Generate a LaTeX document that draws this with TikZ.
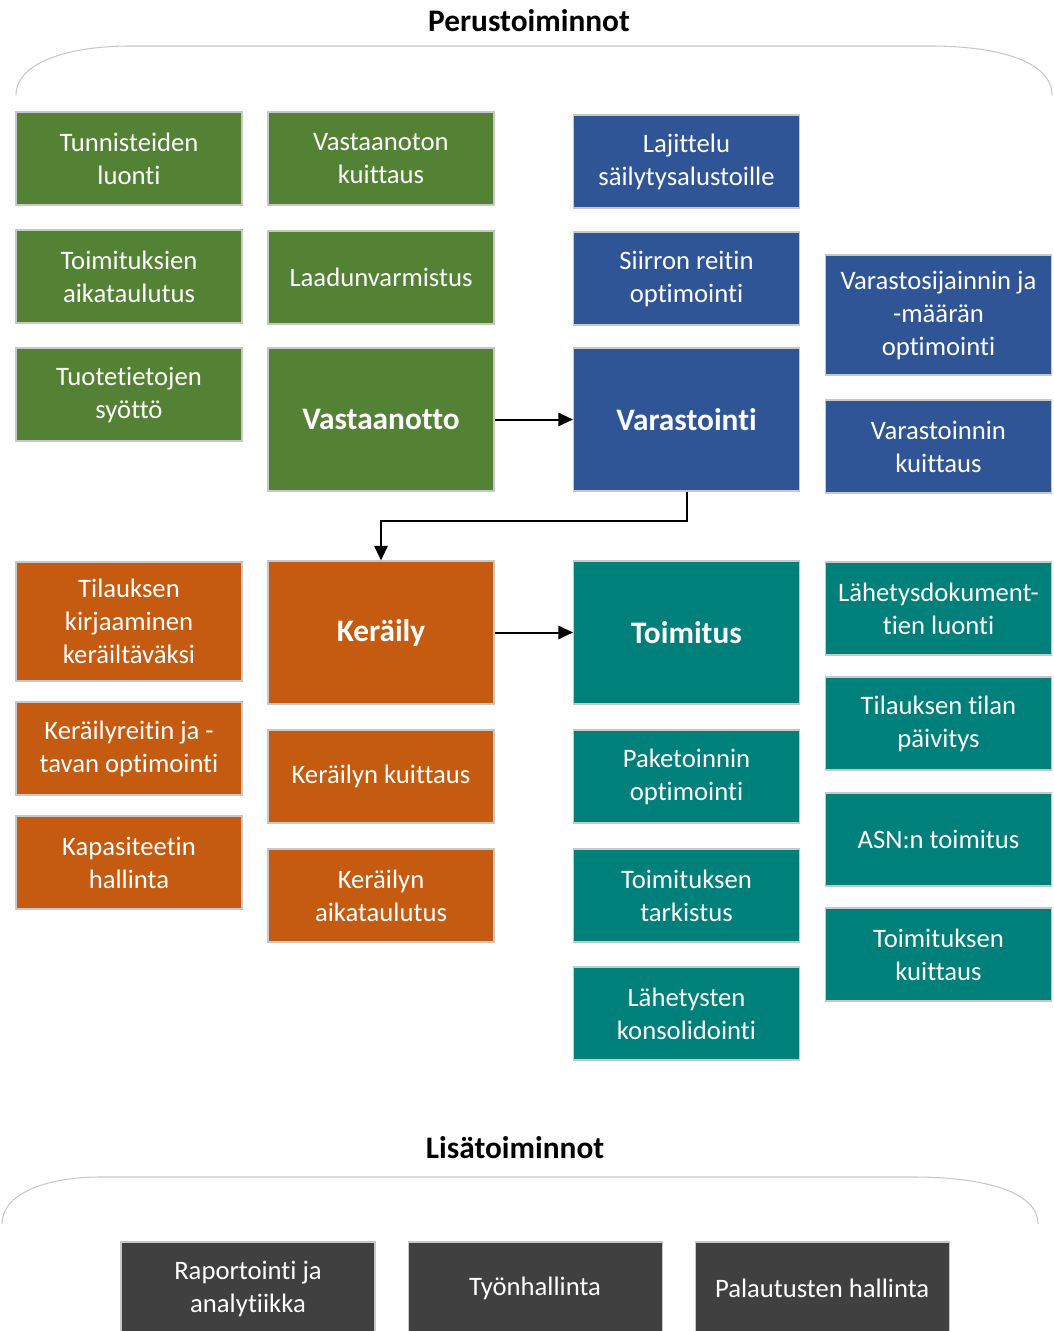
\documentclass[tikz,border=0pt]{standalone}
\usepackage{fontspec}
\setmainfont{Carlito}[Ligatures=NoCommon]
\usetikzlibrary{arrows.meta,positioning}
\definecolor{vgreen}{HTML}{548235}
\definecolor{vblue}{HTML}{2F5597}
\definecolor{vorange}{HTML}{C55A11}
\definecolor{vteal}{HTML}{00807A}
\definecolor{vdark}{HTML}{404040}
\definecolor{vedge}{HTML}{C8C8C8}
\tikzset{
  box/.style={draw=vedge, line width=0.8pt, text=white, align=center,
    minimum width=169.5pt, minimum height=69.75pt, inner sep=0pt,
    font=\fontsize{20}{24.75}\selectfont},
  bigbox/.style={box, minimum height=107.25pt, font=\fontsize{23.5}{28}\selectfont\bfseries},
  head/.style={font=\fontsize{23.5}{28}\selectfont\bfseries},
  flow/.style={line width=1.5pt, -{Triangle[length=11pt,width=10pt]}},
  brace/.style={draw=vedge, line width=0.8pt}
}
\begin{document}
\begin{tikzpicture}[x=0.75pt,y=-0.75pt]
 \clip (0,0) rectangle (1053,1331);
 % Perustoiminnot
 \node[head] (perus) at (529,21) {Perustoiminnot};
 \draw[brace] (16,95) .. controls (16,62) and (70,46) .. (130,46) -- (930,46)
   .. controls (1000,46) and (1052,62) .. (1052,95);
 %
 \node[box,fill=vgreen] (g1) at (129,158.5) {Tunnisteiden\\luonti};
 \node[box,fill=vgreen] (g2) at (381,158.5) {Vastaanoton\\kuittaus};
 \node[box,fill=vgreen] (g3) at (129,276.5) {Toimituksien\\aikataulutus};
 \node[box,fill=vgreen] (g4) at (381,277.5) {Laadunvarmistus};
 \node[box,fill=vgreen] (g5) at (129,394.5) {Tuotetietojen\\syöttö};
 \node[bigbox,fill=vgreen] (vastaanotto) at (381,419.5) {Vastaanotto};
 %
 \node[box,fill=vblue] (b1) at (686.5,161.5) {Lajittelu\\säilytysalustoille};
 \node[box,fill=vblue] (b2) at (686.5,278.5) {Siirron reitin\\optimointi};
 \node[bigbox,fill=vblue] (varastointi) at (686.5,419.5) {Varastointi};
 \node[box,fill=vblue,minimum height=90pt] (b3) at (938.5,315) {Varastosijainnin ja\\-määrän\\optimointi};
 \node[box,fill=vblue] (b4) at (938.5,446.5) {Varastoinnin\\kuittaus};
 %
 \node[box,fill=vorange,minimum height=89.25pt] (o1) at (129,621.5) {Tilauksen\\kirjaaminen\\keräiltäväksi};
 \node[bigbox,fill=vorange] (keraily) at (381,632.5) {Keräily};
 \node[box,fill=vorange] (o2) at (129,748.5) {Keräilyreitin ja -\\tavan optimointi};
 \node[box,fill=vorange] (o3) at (129,862.5) {Kapasiteetin\\hallinta};
 \node[box,fill=vorange] (o4) at (381,776.5) {Keräilyn kuittaus};
 \node[box,fill=vorange] (o5) at (381,895.5) {Keräilyn\\aikataulutus};
 %
 \node[bigbox,fill=vteal] (toimitus) at (686.5,632.5) {Toimitus};
 \node[box,fill=vteal] (t1) at (686.5,776.5) {Paketoinnin\\optimointi};
 \node[box,fill=vteal] (t2) at (686.5,895.5) {Toimituksen\\tarkistus};
 \node[box,fill=vteal] (t3) at (686.5,1013.5) {Lähetysten\\konsolidointi};
 \node[box,fill=vteal] (t4) at (938.5,608.5) {Lähetysdokument-\\tien luonti};
 \node[box,fill=vteal] (t5) at (938.5,723.5) {Tilauksen tilan\\päivitys};
 \node[box,fill=vteal] (t6) at (938.5,839.5) {ASN:n toimitus};
 \node[box,fill=vteal] (t7) at (938.5,954.5) {Toimituksen\\kuittaus};
 %
 \draw[flow] (vastaanotto) -- (varastointi);
 \draw[flow] (varastointi.south) -- ++(0,29) -| (keraily.north);
 \draw[flow] (keraily) -- (toimitus);
 % Lisätoiminnot
 \node[head] (lisa) at (515,1148) {Lisätoiminnot};
 \draw[brace] (2,1224) .. controls (2,1192) and (50,1177) .. (100,1177) -- (913,1177)
   .. controls (985,1177) and (1038,1192) .. (1038,1224);
 %
 \node[box,fill=vdark,minimum width=190.5pt] (d1) at (248,1288.5) {Raportointi ja\\analytiikka};
 \node[box,fill=vdark,minimum width=190.5pt,right=24pt of d1] (d2) {Työnhallinta};
 \node[box,fill=vdark,minimum width=190.5pt,right=24pt of d2] (d3) {Palautusten hallinta};
\end{tikzpicture}
\end{document}
